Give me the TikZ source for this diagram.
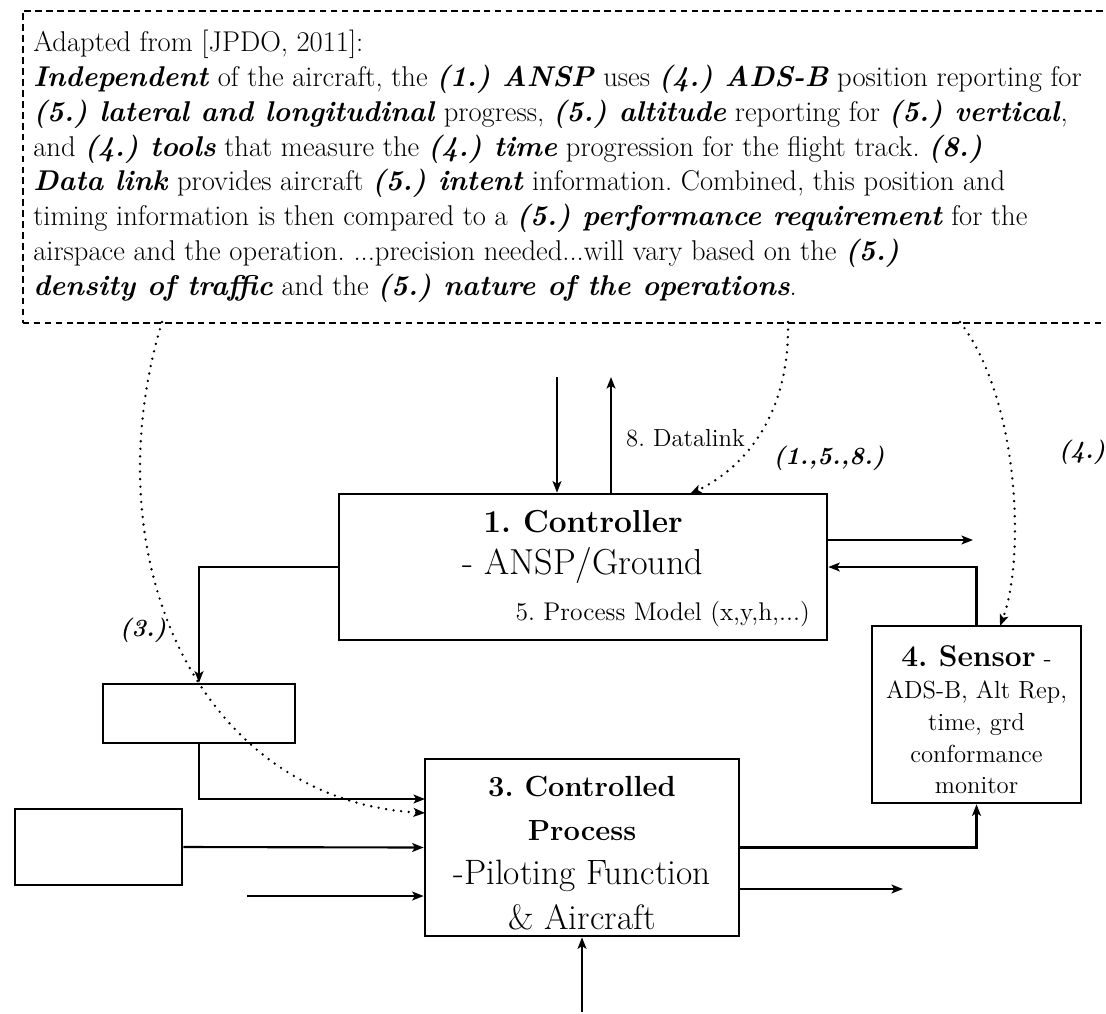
\documentclass[tikz,border=0pt]{standalone}
\usepackage{amsmath}
\usepackage{tikz}
\usetikzlibrary{arrows.meta}

\newcommand{\bi}[1]{\textbf{\textit{#1}}}

\tikzset{
	box/.style={draw, line width=1.5pt, inner sep=0pt},
	flow/.style={line width=1.2pt, -{Stealth[length=6.5pt,width=5pt,inset=1.5pt]}},
	hint/.style={line width=1.5pt, line cap=round, dash pattern=on 0pt off 4.3pt, -{Stealth[length=6.5pt,width=5pt,inset=1.5pt]}},
	frame/.style={draw, line width=0.9pt, dash pattern=on 3.8pt off 2.4pt, inner sep=0pt},
	tag/.style={font=\fontsize{14}{16}\selectfont\bfseries\itshape},
}

\begin{document}
\frenchspacing
\begin{tikzpicture}[x=0.5669pt, y=-0.5669pt]
	\useasboundingbox (0,0) rectangle (1106,1013);

	\node[frame, anchor=north west, minimum width=630pt, minimum height=176.9pt] (quote) at (22,10) {};
	\node[anchor=north west, inner sep=0pt, align=left, font=\fontsize{16.2}{19.7}\selectfont] (src) at (33,30) {Adapted from [JPDO, 2011]:\\
		\bi{Independent} of the aircraft, the \bi{(1.) ANSP} uses \bi{(4.) ADS-B} position reporting for\\
		\bi{(5.) lateral and longitudinal} progress, \bi{(5.) altitude} reporting for \bi{(5.) vertical},\\
		and \bi{(4.) tools} that measure the \bi{(4.) time} progression for the flight track. \bi{(8.)}\\
		\bi{Data link} provides aircraft \bi{(5.) intent} information. Combined, this position and\\
		timing information is then compared to a \bi{(5.) performance requirement} for the\\
		airspace and the operation. ...precision needed...will vary based on the \bi{(5.)}\\
		\bi{density of traffic} and the \bi{(5.) nature of the operations}.};

	\node[box, minimum width=276.6pt, minimum height=82.8pt] (ctrl) at (583,567) {};
	\node[font=\fontsize{18}{22}\selectfont\bfseries] (ctrltitle) at (583,522) {1. Controller};
	\node[font=\fontsize{20.5}{24}\selectfont] (ctrlsub) at (583,565) {- ANSP/Ground};
	\node[anchor=east, font=\fontsize{14.5}{17}\selectfont] (ctrlmodel) at (816,614) {5. Process Model (x,y,h,...)};

	\node[box, minimum width=108.8pt, minimum height=33.4pt] (act) at (199,713.5) {};
	\node[box, minimum width=94.7pt, minimum height=43.1pt] (dist) at (98.5,847) {};

	\node[box, minimum width=178pt, minimum height=100.3pt] (proc) at (582,847.5) {};
	\node[align=center, font=\fontsize{20}{25}\selectfont] (proctext) at (582,853) {{\fontsize{16.5}{25}\selectfont\bfseries 3. Controlled}\\{\fontsize{16.5}{25}\selectfont\bfseries Process}\\-Piloting Function\\\& Aircraft};

	\node[box, minimum width=118.5pt, minimum height=100.3pt] (sens) at (976.5,714.5) {};
	\node[align=center, font=\fontsize{14}{18}\selectfont] (senstext) at (976.5,720) {{\fontsize{17}{18}\selectfont\bfseries 4. Sensor} -\\ADS-B, Alt Rep,\\time, grd\\conformance\\monitor};

	\coordinate (topin) at (557,377);
	\coordinate (topout) at (611,377);
	\coordinate (ctrlend) at (973,540);
	\coordinate (actin) at (425,799);
	\coordinate (hintin) at (425,813);
	\coordinate (lowin) at (247,896);
	\coordinate (botin) at (582,1012);
	\coordinate (procend) at (903,889);
	\coordinate (q3) at (162,322);
	\coordinate (q158) at (788,322);
	\coordinate (q4) at (960,322);
	\coordinate (senshint) at (1000,626);
	\coordinate (ctrlhint) at (690,494);

	\draw[flow] (topin) -- (ctrl.north -| topin);
	\draw[flow] (ctrl.north -| topout) -- (topout);
	\node[anchor=west, font=\fontsize{14}{16}\selectfont] (datalink) at (620,438) {8. Datalink};

	\draw[flow] (ctrl.east |- ctrlend) -- (ctrlend);
	\draw[flow] (sens.north) |- (ctrl.east);
	\draw[flow] (ctrl.west) -| (act.north);
	\draw[flow] (act.south) |- (actin);
	\draw[flow] (dist.east) -- (proc.west);
	\draw[flow] (lowin) -- (proc.west |- lowin);
	\draw[flow] (botin) -- (proc.south);
	\draw[flow] (proc.east) -| (sens.south);
	\draw[flow] (proc.east |- procend) -- (procend);

	\draw[hint] (q3) .. controls (90,560) and (200,800) .. (hintin);
	\draw[hint] (q158) .. controls (790,420) and (740,470) .. (ctrlhint);
	\draw[hint] (q4) .. controls (1020,400) and (1025,560) .. (senshint);

	\node[tag] (tag3) at (143,630) {(3.)};
	\node[tag] (tag158) at (829,458) {(1.,5.,8.)};
	\node[tag] (tag4) at (1082,452) {(4.)};
\end{tikzpicture}
\end{document}
